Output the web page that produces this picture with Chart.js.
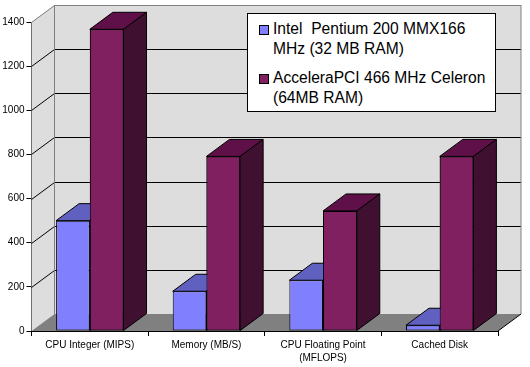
<!DOCTYPE html>
<html>
<head>
<meta charset="utf-8">
<script src="https://cdn.jsdelivr.net/npm/chart.js@4"></script>
<style>
    body { margin: 0; background: #fff; }
    #wrap { position: relative; width: 530px; height: 367px; }
    #legend {
        position: absolute; left: 247px; top: 13px; width: 249px; height: 99px;
        box-sizing: border-box; background: #fff; border: 1px solid #000;
        font: 15.6px/19.5px "Liberation Sans", Arial, sans-serif; color: #000;
    }
    #legend div { position: absolute; left: 25px; width: 222px; white-space: pre; }
    #legend span { position: absolute; left: -14px; top: 6px; width: 10px; height: 10px; box-sizing: border-box; border: 1px solid #000; }
</style>
</head>
<body>
<div id="wrap">
    <canvas id="chart" width="530" height="367"></canvas>
    <div id="legend"></div>
</div>
<script>
// values
const categories = ['CPU Integer (MIPS)', 'Memory (MB/S)', ['CPU Floating Point', '(MFLOPS)'], 'Cached Disk'];
const pentiumValues = [500, 180, 230, 26];
const celeronValues = [1367, 791, 544, 791];
const yTicks = [0, 200, 400, 600, 800, 1000, 1200, 1400];
const pentiumLabel = 'Intel  Pentium 200 MMX166\nMHz (32 MB RAM)';
const celeronLabel = 'AcceleraPCI 466 MHz Celeron\n(64MB RAM)';

// depth of the fake 3D box
const DX = 23;
const DY = 17;
const faces = [
    { front: '#8080ff', top: '#6060c0', side: '#404080' },
    { front: '#802060', top: '#601048', side: '#401030' }
];

function poly(ctx, pts, fill, stroke) {
    ctx.beginPath();
    pts.forEach((p, i) => i ? ctx.lineTo(p[0], p[1]) : ctx.moveTo(p[0], p[1]));
    ctx.closePath();
    if (fill) { ctx.fillStyle = fill; ctx.fill(); }
    if (stroke) { ctx.strokeStyle = stroke; ctx.lineWidth = 1; ctx.stroke(); }
}

function line(ctx, x1, y1, x2, y2, color) {
    ctx.beginPath();
    ctx.moveTo(x1, y1);
    ctx.lineTo(x2, y2);
    ctx.strokeStyle = color;
    ctx.lineWidth = 1;
    ctx.stroke();
}

const box3d = {
    id: 'box3d',
    beforeDatasetsDraw(chart) {
        const { ctx, chartArea: a, scales: { y } } = chart;
        const l = a.left, r = a.right, t = a.top, b = a.bottom;
        ctx.save();
        // walls and floor
        poly(ctx, [[l + DX, t - DY], [r + DX, t - DY], [r + DX, b - DY], [l + DX, b - DY]], '#dddddd');
        poly(ctx, [[l, t], [l + DX, t - DY], [l + DX, b - DY], [l, b]], '#dddddd');
        poly(ctx, [[l, b], [r, b], [r + DX, b - DY], [l + DX, b - DY]], '#808080');
        // gridlines run up the side wall and across the back
        yTicks.forEach(v => {
            if (v === 0) return;
            const py = Math.round(y.getPixelForValue(v)) + 0.5;
            const col = v === yTicks[yTicks.length - 1] ? '#808080' : '#000';
            line(ctx, l, py, l + DX, py - DY, col);
            line(ctx, l + DX, py - DY, r + DX, py - DY, col);
        });
        line(ctx, l + DX, t - DY, l + DX, b - DY, '#808080');
        line(ctx, r + DX, t - DY, r + DX, b - DY, '#808080');
        line(ctx, r, b, r + DX, b - DY, '#000');
        ctx.restore();
    },
    afterDatasetsDraw(chart) {
        const ctx = chart.ctx;
        ctx.save();
        chart.data.datasets.forEach((ds, d) => {
            const meta = chart.getDatasetMeta(d);
            meta.data.forEach(bar => {
                const x1 = bar.x - bar.width / 2, x2 = bar.x + bar.width / 2;
                const top = bar.y, base = bar.base;
                poly(ctx, [[x1, top], [x2, top], [x2 + DX, top - DY], [x1 + DX, top - DY]], faces[d].top, '#000');
                poly(ctx, [[x2, top], [x2 + DX, top - DY], [x2 + DX, base - DY], [x2, base]], faces[d].side, '#000');
            });
            // the second series stands in front of the first one's top face
            if (d === 1) meta.data.forEach(bar => bar.draw(ctx));
        });
        ctx.restore();
    }
};

new Chart(document.getElementById('chart').getContext('2d'), {
    type: 'bar',
    data: {
        labels: categories,
        datasets: [
            { label: pentiumLabel, data: pentiumValues, backgroundColor: faces[0].front, borderColor: '#000', borderWidth: 1, borderSkipped: false, inflateAmount: 0 },
            { label: celeronLabel, data: celeronValues, backgroundColor: faces[1].front, borderColor: '#000', borderWidth: 1, borderSkipped: false, inflateAmount: 0 }
        ]
    },
    options: {
        responsive: false,
        animation: false,
        layout: { padding: { top: 22, right: 32, left: 0, bottom: 0 } },
        barPercentage: 1,
        categoryPercentage: 0.578,
        plugins: { legend: { display: false }, tooltip: { enabled: false } },
        scales: {
            x: {
                grid: { drawOnChartArea: false, color: '#000', tickLength: 5 },
                border: { color: '#000' },
                ticks: { color: '#000', maxRotation: 0, autoSkip: false, padding: 3, font: { family: '"Liberation Sans", Arial', size: 10, lineHeight: 1.3 } },
                afterFit: ax => { ax.height = 36; }
            },
            y: {
                min: 0,
                max: 1400,
                grid: { drawOnChartArea: false, color: '#000', tickLength: 5 },
                border: { color: '#000' },
                ticks: { color: '#000', padding: 2, callback: v => String(v), font: { family: '"Liberation Sans", Arial', size: 10 } },
                afterBuildTicks: ax => { ax.ticks = yTicks.map(v => ({ value: v })); },
                afterFit: ax => { ax.width = 31.5; }
            }
        }
    },
    plugins: [box3d]
});

// legend box: two wrapped entries
const legend = document.getElementById('legend');
[[pentiumLabel, 5, 0], [celeronLabel, 54, 1]].forEach(([text, top, d]) => {
    const row = document.createElement('div');
    row.style.top = top + 'px';
    row.textContent = text;
    const swatch = document.createElement('span');
    swatch.style.background = faces[d].front;
    row.appendChild(swatch);
    legend.appendChild(row);
});
</script>
</body>
</html>
